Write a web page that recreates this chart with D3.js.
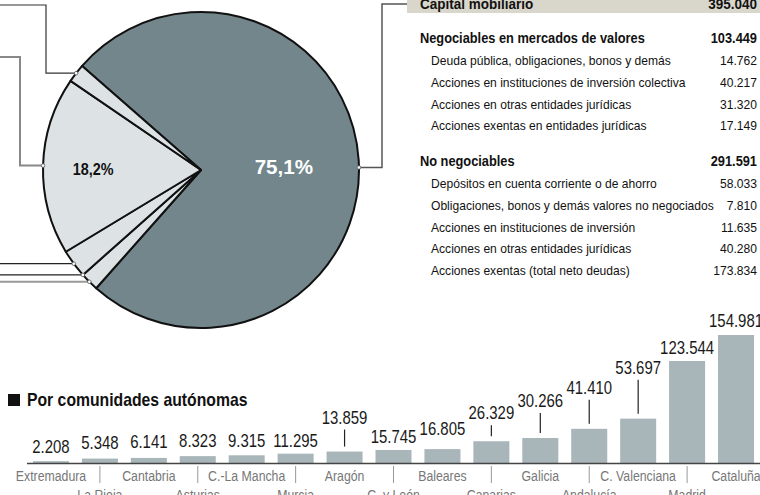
<!DOCTYPE html>
<html lang="es">
<head>
<meta charset="UTF-8">
<title>Capital mobiliario</title>
<script src="https://d3js.org/d3.v7.min.js"></script>
<style>
  body { margin: 0; background: #fff; }
  .chart { width: 760px; height: 495px; overflow: hidden; }
  .chart text { font-family: "Liberation Sans", Arial, sans-serif; }
</style>
</head>
<body>
<div class="chart"></div>
<script>
// --- tarta (porcentajes)
const pieShares = [75.1, 1.9, 2.9, 18.2, 1.9]
const pieLabels = ['75,1%', '', '', '18,2%', '']

// --- tabla
const totalLabel = 'Capital mobiliario'
const totalValue = 395040
const groupNames = ['Negociables en mercados de valores', 'No negociables']
const groupValues = [103449, 291591]
const negItems = ['Deuda pública, obligaciones, bonos y demás',
                  'Acciones en instituciones de inversión colectiva',
                  'Acciones en otras entidades jurídicas',
                  'Acciones exentas en entidades jurídicas']
const negValues = [14762, 40217, 31320, 17149]
const noNegItems = ['Depósitos en cuenta corriente o de ahorro',
                    'Obligaciones, bonos y demás valores no negociados',
                    'Acciones en instituciones de inversión',
                    'Acciones en otras entidades jurídicas',
                    'Acciones exentas (total neto deudas)']
const noNegValues = [58033, 7810, 11635, 40280, 173834]

// --- barras por comunidades
const regions = ['Extremadura', 'La Rioja', 'Cantabria', 'Asturias', 'C.-La Mancha', 'Murcia',
                 'Aragón', 'C. y León', 'Baleares', 'Canarias', 'Galicia', 'Andalucía',
                 'C. Valenciana', 'Madrid', 'Cataluña']
const regionValues = [2208, 5348, 6141, 8323, 9315, 11295, 13859, 15745, 16805,
                      26329, 30266, 41410, 53697, 123544, 154981]

// layout (no son datos)
const labelLift = [8, 10, 10, 9, 8, 7, 28, 7, 14, 22, 31, 35, 45, 7, 8]
const labelRadius = [83, 0, 0, 108, 0]

const width = 760, height = 495
const svg = d3.select('.chart').append('svg')
    .attr('width', width)
    .attr('height', height)

const es = d3.formatLocale({decimal: ',', thousands: '.', grouping: [3], currency: ['', ' €']})
const fmt = es.format(',')

// fuente estrecha: Liberation Sans comprimida en horizontal
function place(sel, fx, fy, sx) {
  sel.attr('x', null).attr('y', null)
    .attr('transform', (d, i) => `translate(${fx(d, i)},${fy(d, i)}) scale(${sx},1)`)
}

// ================= tarta
const cx = 201, cy = 170, R = 158
const startA = -48.8 * Math.PI / 180
const pie = d3.pie().sort(null).startAngle(startA).endAngle(startA + 2 * Math.PI)
const arcs = pie(pieShares)
const arc = d3.arc().innerRadius(0).outerRadius(R)
const pieColors = ['#72868c', '#dde3e5', '#dde3e5', '#dde3e5', '#dde3e5']

// líneas guía hacia los rótulos (recortados fuera del cuadro)
const leaders = [
  {slice: 0, t: 0.51, elbowX: 382, toY: 4, endX: 407, color: '#555', w: 1.5},
  {slice: 4, t: 0.5, elbowX: 46, toY: 5, endX: 0, color: '#333', w: 1.2},
  {slice: 3, t: 0.5, elbowX: 20, toY: 57, endX: 0, color: '#888', w: 2},
  {slice: 2, t: 0.5, endX: 0, color: '#222', w: 1.2},
  {slice: 1, t: 1, endX: 0, color: '#222', w: 1.2},
  {slice: 1, t: 0.5, endX: 0, color: '#999', w: 2}
]
leaders.forEach(l => {
  const a = arcs[l.slice]
  const ang = a.startAngle + l.t * (a.endAngle - a.startAngle)
  l.ax = cx + R * Math.sin(ang)
  l.ay = cy - R * Math.cos(ang)
})

svg.append('g').selectAll('path')
  .data(leaders)
  .join('path')
  .attr('d', l => l.elbowX !== undefined
      ? `M${l.ax},${l.ay}H${l.elbowX}V${l.toY}H${l.endX}`
      : `M${l.ax},${l.ay}H${l.endX}`)
  .attr('fill', 'none')
  .attr('stroke', l => l.color)
  .attr('stroke-width', l => l.w)

const gPie = svg.append('g').attr('transform', `translate(${cx},${cy})`)
gPie.selectAll('path')
  .data(arcs)
  .join('path')
  .attr('d', arc)
  .attr('fill', (d, i) => pieColors[i])
  .attr('stroke', '#111')
  .attr('stroke-width', 2)
  .attr('stroke-linejoin', 'round')

svg.append('g').selectAll('circle')
  .data(leaders)
  .join('circle')
  .attr('cx', l => l.ax)
  .attr('cy', l => l.ay)
  .attr('r', 1.8)
  .attr('fill', '#fff')
  .attr('stroke', '#555')
  .attr('stroke-width', 0.8)

const pieText = gPie.selectAll('text')
  .data(arcs.filter((d, i) => pieLabels[i]))
  .join('text')
  .attr('text-anchor', 'middle')
  .attr('dominant-baseline', 'central')
  .attr('font-weight', 'bold')
  .attr('font-size', d => d.index === 0 ? 21 : 16)
  .attr('fill', d => d.index === 0 ? '#fff' : '#111')
  .text(d => pieLabels[d.index])
pieText.attr('transform', d => {
  const r = labelRadius[d.index]
  const c = d3.arc().innerRadius(r).outerRadius(r).centroid(d)
  return `translate(${c[0]},${c[1] + 2}) scale(${d.index === 0 ? 0.98 : 0.9},1)`
})

// ================= tabla
const tx0 = 420, tx1 = 431, tx2 = 757
const tab = svg.append('g')
tab.append('rect').attr('x', 407).attr('y', -12).attr('width', 353).attr('height', 25).attr('fill', '#d9d6cb')
tab.append('text').attr('font-weight', 'bold').attr('font-size', 15).attr('fill', '#111')
  .text(totalLabel).call(place, () => tx0, () => 9, 0.9)
tab.append('text').attr('text-anchor', 'end').attr('font-weight', 'bold').attr('font-size', 15).attr('fill', '#111')
  .text(fmt(totalValue)).call(place, () => tx2, () => 9, 0.9)

const rows = []
rows.push({label: groupNames[0], value: groupValues[0], head: true, y: 43})
negItems.forEach((n, i) => rows.push({label: n, value: negValues[i], head: false, y: 65 + i * 21.8}))
rows.push({label: groupNames[1], value: groupValues[1], head: true, y: 166})
noNegItems.forEach((n, i) => rows.push({label: n, value: noNegValues[i], head: false, y: 188 + i * 21.8}))

const rowG = tab.selectAll('g.row').data(rows).join('g').attr('class', 'row')
rowG.append('text')
  .attr('font-weight', d => d.head ? 'bold' : 'normal')
  .attr('font-size', d => d.head ? 14 : 13)
  .attr('fill', '#111')
  .text(d => d.label)
  .attr('transform', d => `translate(${d.head ? tx0 : tx1},${d.y}) scale(${d.head ? 0.915 : 0.93},1)`)
rowG.append('text')
  .attr('text-anchor', 'end')
  .attr('font-weight', d => d.head ? 'bold' : 'normal')
  .attr('font-size', d => d.head ? 14 : 13)
  .attr('fill', '#111')
  .text(d => fmt(d.value))
  .attr('transform', d => `translate(${tx2},${d.y}) scale(${d.head ? 0.915 : 0.93},1)`)

// ================= barras
const base = 463
const x = d3.scaleBand()
  .domain(regions)
  .range([26.5, 760.5])
  .paddingInner(0.264)
  .paddingOuter(0.132)
const y = d3.scaleLinear()
  .domain([0, d3.max(regionValues)])
  .range([base, 335])

// título
svg.append('rect').attr('x', 8).attr('y', 394).attr('width', 12).attr('height', 12).attr('fill', '#111')
svg.append('text').attr('font-weight', 'bold').attr('font-size', 18).attr('fill', '#111')
  .text('Por comunidades autónomas').call(place, () => 27, () => 406, 0.875)

svg.append('g').selectAll('rect')
  .data(regionValues)
  .join('rect')
  .attr('x', (d, i) => x(regions[i]))
  .attr('y', d => y(d))
  .attr('width', x.bandwidth())
  .attr('height', d => base - y(d))
  .attr('fill', '#a8b6b9')

// eje
const xAxis = d3.axisBottom(x).tickSize(0).tickSizeOuter(0).tickPadding(0)
const axisG = svg.append('g')
  .attr('transform', `translate(0,${base})`)
  .call(xAxis)
axisG.attr('font-family', null)
axisG.select('.domain').attr('stroke', '#444').attr('stroke-width', 1.5)
axisG.selectAll('.tick text')
  .attr('font-size', 15)
  .attr('fill', '#777')
  .attr('dy', null)
  .call(place, () => 0, (d, i) => i % 2 ? 37 : 18, 0.82)
axisG.selectAll('.tick')
  .filter((d, i) => i % 2 === 1)
  .append('line')
  .attr('y1', 3)
  .attr('y2', 20)
  .attr('stroke', '#999')
  .attr('stroke-width', 1)

// valores
const cxBar = r => x(r) + x.bandwidth() / 2
const valG = svg.append('g')
valG.selectAll('text')
  .data(regionValues)
  .join('text')
  .attr('text-anchor', 'middle')
  .attr('font-size', 18)
  .attr('fill', '#1a1a1a')
  .text(d => fmt(d))
  .call(place, (d, i) => cxBar(regions[i]), (d, i) => y(d) - labelLift[i], 0.83)
valG.selectAll('line')
  .data(regionValues.map((d, i) => ({d, i})).filter(o => labelLift[o.i] >= 20))
  .join('line')
  .attr('x1', o => cxBar(regions[o.i]))
  .attr('x2', o => cxBar(regions[o.i]))
  .attr('y1', o => y(o.d) - 5)
  .attr('y2', o => y(o.d) - labelLift[o.i] + 6)
  .attr('stroke', '#222')
  .attr('stroke-width', 1.2)
</script>
</body>
</html>
